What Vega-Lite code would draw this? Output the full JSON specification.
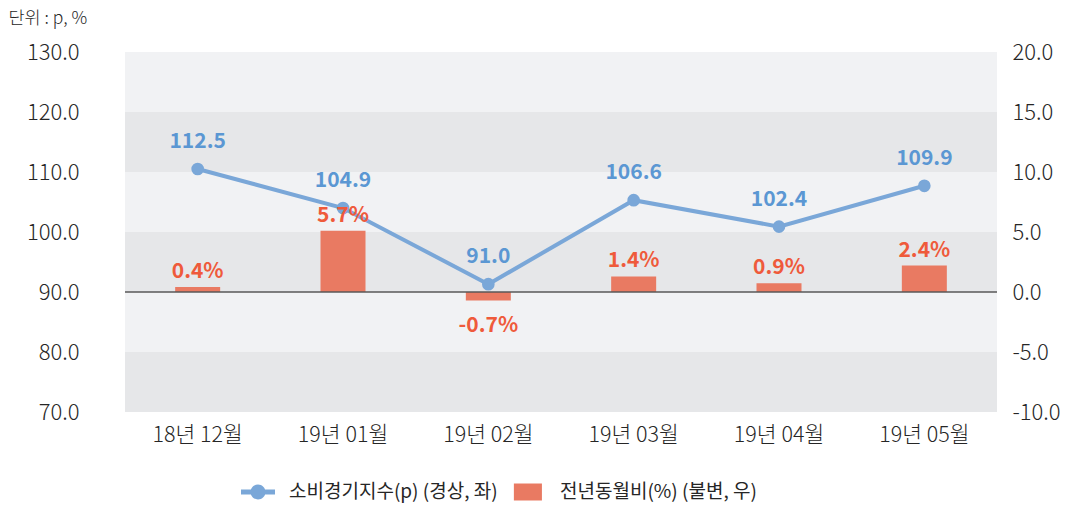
{
  "$schema": "https://vega.github.io/schema/vega-lite/v6.json",
  "width": 872,
  "height": 360,
  "autosize": {"type": "none"},
  "padding": {"left": 125, "top": 52, "right": 74, "bottom": 96},
  "background": "#ffffff",
  "config": {
    "view": {"stroke": null, "fill": "#f1f2f4"},
    "font": "Noto Sans CJK KR",
    "axis": {"domain": false, "ticks": false, "grid": false, "labelColor": "#262626", "labelFont": "Noto Sans CJK KR", "labelFontWeight": 300}
  },
  "datasets": {
    "main": [
      {"month": "18년 12월", "index": 110.5, "indexLabel": "112.5", "yoy": 0.42, "yoyLabel": "0.4%"},
      {"month": "19년 01월", "index": 104.0, "indexLabel": "104.9", "yoy": 5.1, "yoyLabel": "5.7%"},
      {"month": "19년 02월", "index": 91.3, "indexLabel": "91.0", "yoy": -0.7, "yoyLabel": "-0.7%"},
      {"month": "19년 03월", "index": 105.3, "indexLabel": "106.6", "yoy": 1.3, "yoyLabel": "1.4%"},
      {"month": "19년 04월", "index": 100.9, "indexLabel": "102.4", "yoy": 0.72, "yoyLabel": "0.9%"},
      {"month": "19년 05월", "index": 107.7, "indexLabel": "109.9", "yoy": 2.2, "yoyLabel": "2.4%"}
    ],
    "bands": [{"lo": 70, "hi": 80}, {"lo": 90, "hi": 100}, {"lo": 110, "hi": 120}],
    "zero": [{"v": 0}]
  },
  "layer": [
    {
      "layer": [
        {
          "data": {"name": "bands"},
          "mark": {"type": "rect", "color": "#e6e7e9"},
          "encoding": {
            "y": {"field": "lo", "type": "quantitative", "title": "단위 : p, %",
              "scale": {"domain": [70, 130], "nice": false, "zero": false},
              "axis": {"orient": "left", "values": [70, 80, 90, 100, 110, 120, 130], "format": ".1f", "labelFontSize": 22, "labelPadding": 46,
                "titleAngle": 0, "titleX": -117, "titleY": -34, "titleAlign": "left", "titleBaseline": "middle", "titleFontSize": 17.5, "titleFontWeight": 300, "titleColor": "#262626", "titleFont": "Noto Sans CJK KR"}},
            "y2": {"field": "hi"}
          }
        },
        {
          "data": {"name": "main"},
          "mark": {"type": "line", "strokeWidth": 4},
          "encoding": {
            "x": {"field": "month", "type": "nominal", "sort": null, "title": null, "scale": {"paddingInner": 0, "paddingOuter": 0},
              "axis": {"labelAngle": 0, "labelFontSize": 21.5, "labelPadding": 12}},
            "y": {"field": "index", "type": "quantitative", "title": "단위 : p, %", "scale": {"domain": [70, 130], "nice": false, "zero": false}},
            "color": {"datum": "소비경기지수(p) (경상, 좌)", "type": "nominal",
              "scale": {"domain": ["소비경기지수(p) (경상, 좌)", "전년동월비(%) (불변, 우)"], "range": ["#7aa7d8", "#e97a62"]},
              "legend": {"orient": "none", "legendX": 116, "legendY": 423, "direction": "horizontal", "title": null,
                "symbolSize": 1156, "labelFontSize": 19, "labelFontWeight": "normal", "labelLimit": 500, "labelOffset": 14, "columnPadding": 14, "labelColor": "#262626", "labelFont": "Noto Sans CJK KR",
                "encode": {"symbols": {"update": {
                  "shape": {"signal": "datum.index === 0 ? 'M-1,-0.15H1V0.15H-1Z M0.44,0A0.44,0.44 0 1 1 -0.44,0A0.44,0.44 0 1 1 0.44,0Z' : 'M-0.89,-0.5H0.76V0.5H-0.89Z'"},
                  "fill": {"scale": "color", "field": "value"},
                  "stroke": {"value": "transparent"},
                  "strokeWidth": {"value": 0},
                  "opacity": {"value": 1}
                }}}}}
          }
        },
        {
          "data": {"name": "main"},
          "mark": {"type": "circle", "size": 160, "opacity": 1, "color": "#7aa7d8"},
          "encoding": {
            "x": {"field": "month", "type": "nominal", "sort": null},
            "y": {"field": "index", "type": "quantitative", "title": "단위 : p, %", "scale": {"domain": [70, 130], "nice": false, "zero": false}}
          }
        },
        {
          "data": {"name": "main"},
          "mark": {"type": "text", "fontSize": 21, "fontWeight": "bold", "color": "#5b97d3", "dy": -21, "baseline": "alphabetic"},
          "encoding": {
            "x": {"field": "month", "type": "nominal", "sort": null},
            "y": {"field": "index", "type": "quantitative", "title": "단위 : p, %", "scale": {"domain": [70, 130], "nice": false, "zero": false}},
            "text": {"field": "indexLabel"}
          }
        }
      ]
    },
    {
      "layer": [
        {
          "data": {"name": "main"},
          "mark": {"type": "bar", "width": 45},
          "encoding": {
            "x": {"field": "month", "type": "nominal", "sort": null},
            "y": {"field": "yoy", "type": "quantitative", "title": null,
              "scale": {"domain": [-10, 20], "nice": false},
              "axis": {"orient": "right", "values": [-10, -5, 0, 5, 10, 15, 20], "labelExpr": "replace(format(datum.value, '.1f'), '−', '-')", "labelFontSize": 22, "labelPadding": 15}},
            "color": {"datum": "전년동월비(%) (불변, 우)", "type": "nominal"}
          }
        },
        {
          "data": {"name": "zero"},
          "mark": {"type": "rule", "color": "#595959", "strokeWidth": 1.5},
          "encoding": {
            "y": {"field": "v", "type": "quantitative", "title": null, "scale": {"domain": [-10, 20], "nice": false}}
          }
        },
        {
          "data": {"name": "main"},
          "transform": [{"filter": "datum.yoy >= 0"}],
          "mark": {"type": "text", "fontSize": 21, "fontWeight": "bold", "color": "#ef5a3b", "dy": -9, "baseline": "alphabetic"},
          "encoding": {
            "x": {"field": "month", "type": "nominal", "sort": null},
            "y": {"field": "yoy", "type": "quantitative", "title": null, "scale": {"domain": [-10, 20], "nice": false}},
            "text": {"field": "yoyLabel"}
          }
        },
        {
          "data": {"name": "main"},
          "transform": [{"filter": "datum.yoy < 0"}],
          "mark": {"type": "text", "fontSize": 21, "fontWeight": "bold", "color": "#ef5a3b", "dy": 32, "baseline": "alphabetic"},
          "encoding": {
            "x": {"field": "month", "type": "nominal", "sort": null},
            "y": {"field": "yoy", "type": "quantitative", "title": null, "scale": {"domain": [-10, 20], "nice": false}},
            "text": {"field": "yoyLabel"}
          }
        }
      ]
    }
  ],
  "resolve": {"scale": {"y": "independent"}}
}
